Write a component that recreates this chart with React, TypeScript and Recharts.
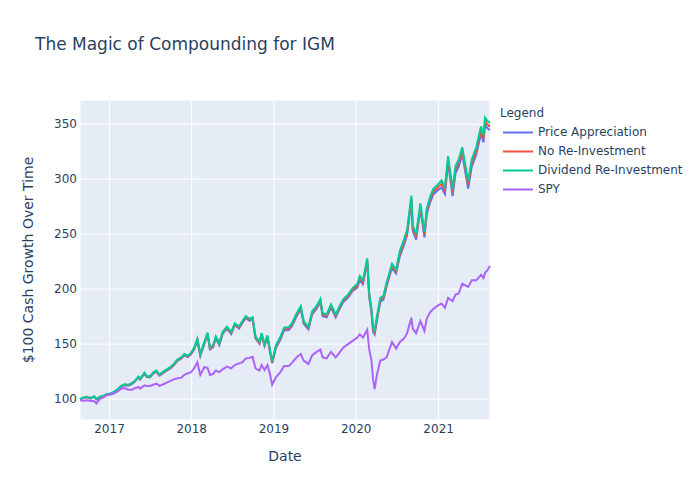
import { LineChart, Line, XAxis, YAxis, CartesianGrid, Legend } from "recharts";

const dates = [
  "2016-08-23", "2016-09-09", "2016-09-23", "2016-10-10", "2016-10-25", "2016-11-04", "2016-11-18", "2016-12-05", "2016-12-20",
  "2017-01-05", "2017-01-20", "2017-02-06", "2017-02-22", "2017-03-08", "2017-03-24", "2017-04-10", "2017-04-25", "2017-05-10",
  "2017-05-17", "2017-06-05", "2017-06-15", "2017-06-29", "2017-07-14", "2017-07-28", "2017-08-11", "2017-08-28", "2017-09-12",
  "2017-09-28", "2017-10-13", "2017-10-30", "2017-11-15", "2017-11-29", "2017-12-14", "2017-12-29",
  "2018-01-12", "2018-01-26", "2018-02-08", "2018-02-26", "2018-03-12", "2018-03-23", "2018-04-06", "2018-04-18", "2018-05-03",
  "2018-05-18", "2018-06-06", "2018-06-25", "2018-07-11", "2018-07-30", "2018-08-14", "2018-08-29", "2018-09-14", "2018-09-28",
  "2018-10-11", "2018-10-29", "2018-11-07", "2018-11-20", "2018-12-03", "2018-12-14", "2018-12-24",
  "2019-01-10", "2019-01-28", "2019-02-15", "2019-03-08", "2019-03-22", "2019-04-12", "2019-04-30", "2019-05-13", "2019-06-03",
  "2019-06-20", "2019-07-10", "2019-07-26", "2019-08-05", "2019-08-23", "2019-09-11", "2019-10-02", "2019-10-18", "2019-11-05",
  "2019-11-26", "2019-12-16",
  "2020-01-06", "2020-01-17", "2020-01-31", "2020-02-19", "2020-02-28", "2020-03-09", "2020-03-16", "2020-03-23", "2020-04-02",
  "2020-04-17", "2020-05-01", "2020-05-15", "2020-06-08", "2020-06-26", "2020-07-13", "2020-07-31", "2020-08-14", "2020-09-02",
  "2020-09-08", "2020-09-23", "2020-10-12", "2020-10-30", "2020-11-09", "2020-11-24", "2020-12-08", "2020-12-28",
  "2021-01-14", "2021-01-29", "2021-02-12", "2021-03-04", "2021-03-17", "2021-03-31", "2021-04-16", "2021-05-12", "2021-05-28",
  "2021-06-17", "2021-07-08", "2021-07-19", "2021-07-26", "2021-08-05", "2021-08-17",
];

const priceAppreciation = [
  99.7, 101.2, 101.7, 100.7, 102.2, 99.7, 101.7, 102.7, 104.2,
  104.2, 105.7, 108.2, 111.2, 112.7, 112.2, 113.7, 116.2, 119.7, 117.7, 123.2, 120.2, 119.7,
  123.3, 124.8, 121.3, 123.8, 125.8, 127.8, 130.8, 134.8, 136.8, 139.8, 138.3, 140.8,
  145.2, 153.2, 139.2, 150.2, 158.7, 145.2, 147.2, 155.2, 149.2, 159.2, 164.2, 159.2, 167.2, 164.2, 169.2, 173.7, 171.2, 172.7,
  155.2, 150.2, 158.2, 148.2, 156.2, 143.2, 132.7,
  146.4, 153.4, 162.4, 162.9, 166.4, 175.4, 181.9, 168.4, 163.4, 177.4, 182.4, 188.4, 175.4, 174.4, 183.4, 174.4, 181.4, 188.4,
  192.4, 198.4,
  201.4, 208.4, 204.4, 224.4, 192.4, 178.4, 161.4, 158.9, 171.4, 188.4, 190.4, 202.4, 219.4, 214.4,
  230, 240, 249, 280, 253, 245, 273, 247, 268, 279, 286, 290,
  292.5, 286.5, 314.5, 284.5, 305.5, 311.5, 322.5, 291.5, 311.5, 322.5, 341.5, 333.5, 349.5, 346.5, 344.5,
];

const noReinvestment = [
  99.9, 101.4, 101.9, 100.9, 102.4, 99.9, 101.9, 102.9, 104.4,
  104.7, 106.2, 108.7, 111.7, 113.2, 112.7, 114.2, 116.7, 120.2, 118.2, 123.7, 120.7, 120.2,
  124.0, 125.5, 122.0, 124.5, 126.5, 128.5, 131.5, 135.5, 137.5, 140.5, 139.0, 141.5,
  146.2, 154.2, 140.2, 151.2, 159.7, 146.2, 148.2, 156.2, 150.2, 160.2, 165.2, 160.2, 168.2, 165.2, 170.2, 174.7, 172.2, 173.7,
  156.2, 151.2, 159.2, 149.2, 157.2, 144.2, 133.7,
  147.8, 154.8, 163.8, 164.3, 167.8, 176.8, 183.3, 169.8, 164.8, 178.8, 183.8, 189.8, 176.8, 175.8, 184.8, 175.8, 182.8, 189.8,
  193.8, 199.8,
  203.2, 210.2, 206.2, 226.2, 194.2, 180.2, 163.2, 160.7, 173.2, 190.2, 192.2, 204.2, 221.2, 216.2,
  232.5, 242.5, 251.5, 282.5, 255.5, 247.5, 275.5, 249.5, 270.5, 281.5, 288.5, 292.5,
  295.8, 289.8, 317.8, 287.8, 308.8, 314.8, 325.8, 294.8, 314.8, 325.8, 344.8, 336.8, 352.8, 349.8, 347.8,
];

const dividendReinvestment = [
  100.0, 101.5, 102.0, 101.0, 102.5, 100.0, 102.0, 103.0, 104.5,
  105.0, 106.5, 109.0, 112.0, 113.5, 113.0, 114.5, 117.0, 120.5, 118.5, 124.0, 121.0, 120.5,
  124.5, 126.0, 122.5, 125.0, 127.0, 129.0, 132.0, 136.0, 138.0, 141.0, 139.5, 142.0,
  147.0, 155.0, 141.0, 152.0, 160.5, 147.0, 149.0, 157.0, 151.0, 161.0, 166.0, 161.0, 169.0, 166.0, 171.0, 175.5, 173.0, 174.5,
  157.0, 152.0, 160.0, 150.0, 158.0, 145.0, 134.5,
  149.0, 156.0, 165.0, 165.5, 169.0, 178.0, 184.5, 171.0, 166.0, 180.0, 185.0, 191.0, 178.0, 177.0, 186.0, 177.0, 184.0, 191.0,
  195.0, 201.0,
  205.0, 212.0, 208.0, 228.0, 196.0, 182.0, 165.0, 162.5, 175.0, 192.0, 194.0, 206.0, 223.0, 218.0,
  235.0, 245.0, 254.0, 285.0, 258.0, 250.0, 278.0, 252.0, 273.0, 284.0, 291.0, 295.0,
  299.0, 293.0, 321.0, 291.0, 312.0, 318.0, 329.0, 298.0, 318.0, 329.0, 348.0, 340.0, 356.0, 353.0, 351.0,
];

const spy = [
  99.0, 98.5, 99.0, 98.5, 98.0, 96.0, 100.0, 101.5, 103.5,
  104.5, 105.0, 107.0, 109.5, 110.0, 108.5, 108.5, 110.0, 111.0, 109.5, 112.5, 112.0, 112.0,
  113.0, 114.0, 112.0, 113.5, 115.0, 116.5, 118.0, 119.0, 119.5, 122.0, 123.5, 124.5,
  128.0, 133.5, 122.0, 129.0, 128.5, 122.0, 123.0, 126.0, 124.5, 127.0, 129.5, 128.0, 131.0, 132.5, 133.5, 137.0, 137.5, 138.5,
  128.0, 126.0, 131.0, 126.5, 131.0, 123.0, 113.0,
  120, 124, 130, 130, 133, 138, 141, 135, 132, 140, 143, 145, 138, 137, 143, 138, 142, 147, 150, 153,
  156, 159, 156, 163, 145, 135, 118, 109, 122, 135, 136, 138, 152, 146,
  152, 155, 160, 174, 164, 160, 171, 162, 173, 179, 182, 185,
  187, 183, 192, 189, 195, 196, 205, 202, 208, 208, 213, 210, 215, 217, 221,
];

const yearTicks = ["2017-01-01", "2018-01-01", "2019-01-01", "2020-01-01", "2021-01-01"];
const valueTicks = [100, 150, 200, 250, 300, 350];

const series = [
  { key: "pa", name: "Price Appreciation", color: "#636efa" },
  { key: "nri", name: "No Re-Investment", color: "#EF553B" },
  { key: "dri", name: "Dividend Re-Investment", color: "#00cc96" },
  { key: "spy", name: "SPY", color: "#ab63fa" },
];

const data = dates.map((d, i) => ({
  t: Date.parse(d),
  pa: priceAppreciation[i],
  nri: noReinvestment[i],
  dri: dividendReinvestment[i],
  spy: spy[i],
}));

const FONT = "'DejaVu Sans', Verdana, sans-serif";
const INK = "#2a3f5f";

function LegendBox() {
  return (
    <div style={{ fontFamily: FONT, fontSize: 12, color: INK, lineHeight: "19px" }}>
      <div>Legend</div>
      {series.map(s => (
        <div key={s.key} style={{ display: "flex", alignItems: "center", height: 19 }}>
          <svg width={38} height={19}>
            <line x1={3} x2={33} y1={9.5} y2={9.5} stroke={s.color} strokeWidth={2} />
          </svg>
          <span>{s.name}</span>
        </div>
      ))}
    </div>
  );
}

export default function App() {
  const xTicks = yearTicks.map(d => Date.parse(d));
  return (
    <div style={{ position: "absolute", left: 0, top: 0, width: 700, height: 500, background: "#fff", fontFamily: FONT }}>
      <div style={{ position: "absolute", left: 35, top: 34, fontSize: 17, lineHeight: "20px", color: INK }}>
        The Magic of Compounding for IGM
      </div>
      <LineChart width={700} height={500} data={data} margin={{ top: 100, right: 210, bottom: 0, left: 0 }}>
        <CartesianGrid stroke="#fff" fill="#E5ECF6" strokeWidth={1} />
        <XAxis
          dataKey="t"
          type="number"
          scale="time"
          domain={[data[0].t, data[data.length - 1].t]}
          ticks={xTicks}
          tickFormatter={(v: number) => String(new Date(v).getUTCFullYear())}
          height={80}
          axisLine={false}
          tickLine={false}
          tickSize={0}
          tickMargin={4}
          tick={{ fill: INK, fontSize: 12, fontFamily: FONT }}
          label={{ value: "Date", position: "center", dy: -4, style: { fill: INK, fontSize: 14, fontFamily: FONT } }}
        />
        <YAxis
          type="number"
          domain={[81, 372]}
          ticks={valueTicks}
          width={80}
          axisLine={false}
          tickLine={false}
          tickSize={0}
          tickMargin={3}
          tick={{ fill: INK, fontSize: 12, fontFamily: FONT }}
          label={{
            value: "$100 Cash Growth Over Time",
            angle: -90,
            position: "center",
            dx: -12,
            style: { fill: INK, fontSize: 14, fontFamily: FONT },
          }}
        />
        {series.map(s => (
          <Line
            key={s.key}
            dataKey={s.key}
            name={s.name}
            stroke={s.color}
            strokeWidth={2}
            dot={false}
            type="linear"
            isAnimationActive={false}
          />
        ))}
        <Legend
          layout="vertical"
          align="center"
          verticalAlign="middle"
          content={() => <LegendBox />}
          wrapperStyle={{ position: "absolute", left: 500, top: 104, width: 195 }}
        />
      </LineChart>
    </div>
  );
}
